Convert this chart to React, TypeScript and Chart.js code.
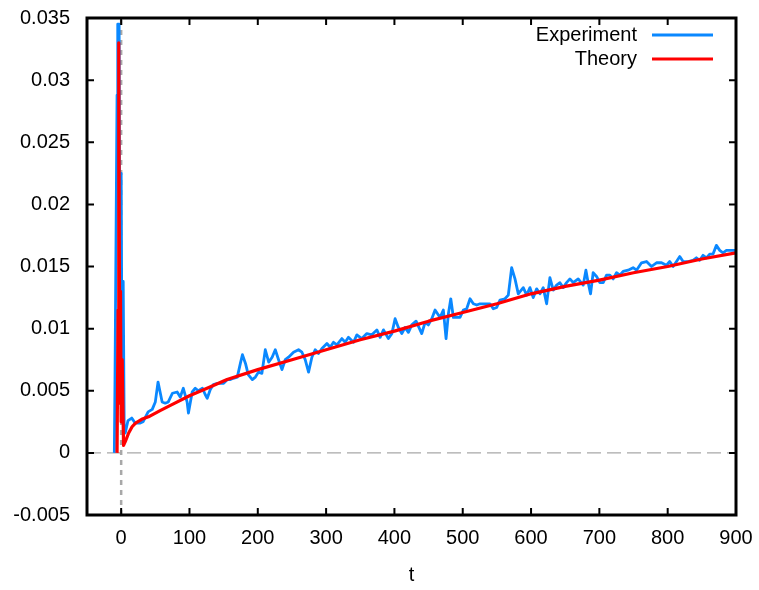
import { useEffect, useRef } from 'react';
import { Chart, registerables } from 'chart.js';
Chart.register(...registerables);

const FONT = '"Liberation Sans", Arial, sans-serif';
const BLUE = '#0a88ff';
const RED = '#ff0000';

const xTicks = [0, 100, 200, 300, 400, 500, 600, 700, 800, 900];
const yTicks = [-0.005, 0, 0.005, 0.01, 0.015, 0.02, 0.025, 0.03, 0.035];

const expT = [
  -10, -9, -7.5, -6, -5, -3, -1.5, 0, 1.5, 3, 4.5, 6, 10, 15.5, 20.5, 28, 32, 39.5, 45.5, 50,
  54, 60, 64.5, 69, 75, 82, 86.5, 91, 96.5, 98.5, 104, 108.5, 113, 119, 123, 126, 130.5, 135, 141, 145,
  150, 155.5, 160, 164, 170, 174.5, 177.5, 182, 186, 192, 196.5, 201, 206, 211, 216, 221, 225.6, 230.4, 235.4, 240.2,
  245, 252.3, 259.6, 264.6, 269.4, 274.3, 279.2, 284, 288.9, 293.9, 301.2, 306, 310.8, 315.8, 323.1, 327.9, 332.7, 340.1, 345, 352.3,
  359.6, 367, 374.3, 379.1, 384, 391.2, 396.2, 401, 405.8, 410.8, 415.6, 420.5, 425.4, 431.7, 440, 444.9, 449.7, 454.7, 459.5, 466.8,
  471.6, 475.6, 479, 482.5, 486.3, 491.2, 496, 500.9, 505.8, 510.7, 515.5, 520.5, 525.3, 532.6, 539.9, 544.7, 549.7, 554.5, 561.8, 566.7,
  571.6, 576.5, 581.3, 588.6, 593.6, 598.4, 603.2, 608.2, 613, 617.8, 622.8, 627.6, 632.5, 637.4, 642.3, 647.1, 652, 656.9, 661.7, 669,
  676.3, 680.3, 683.6, 687.1, 690.9, 695.9, 700.7, 705.6, 710.5, 715.4, 720.2, 725.1, 730, 734.8, 742.1, 749.4, 754.4, 761.7, 769, 776.3,
  783.6, 791, 798.2, 803, 807.9, 812.9, 817.7, 822.5, 829.8, 837.1, 842, 846.9, 851.8, 856.7, 861.5, 866.4, 871.3, 876.2, 881, 886,
  890.8, 899.7,
];
const expY = [
  0, 0.006, 0.0174, 0.0288, 0.0345, 0.0345, 0.008, 0.0225, 0.004, 0.0138, 0.0018, 0.0016, 0.0026, 0.0028, 0.0024, 0.0024, 0.0025, 0.0033, 0.0035, 0.0041,
  0.0057, 0.0041, 0.004, 0.0041, 0.0048, 0.0049, 0.0045, 0.0052, 0.0041, 0.0032, 0.0049, 0.0052, 0.005, 0.0052, 0.0047, 0.0044, 0.0051, 0.0055, 0.0056, 0.0056,
  0.0056, 0.0059, 0.0059, 0.006, 0.0061, 0.0072, 0.0079, 0.0072, 0.0063, 0.0059, 0.0061, 0.0065, 0.0064, 0.0083, 0.0073, 0.0077, 0.0083, 0.0075, 0.0067, 0.0075,
  0.0077, 0.0081, 0.0083, 0.0081, 0.0075, 0.0065, 0.0077, 0.0083, 0.008, 0.0084, 0.0088, 0.0085, 0.0089, 0.0087, 0.0092, 0.0089, 0.0093, 0.0089, 0.0095, 0.0092,
  0.0096, 0.0095, 0.0099, 0.0093, 0.0099, 0.0092, 0.0096, 0.0108, 0.0101, 0.0096, 0.0101, 0.0097, 0.0103, 0.0106, 0.0096, 0.0105, 0.0103, 0.0108, 0.0115, 0.0109,
  0.0115, 0.0092, 0.0112, 0.0124, 0.0109, 0.0109, 0.0109, 0.0115, 0.0116, 0.0124, 0.012, 0.0119, 0.012, 0.012, 0.012, 0.0116, 0.0117, 0.0123, 0.0124, 0.0127,
  0.0149, 0.014, 0.0128, 0.0133, 0.0127, 0.0133, 0.0125, 0.0132, 0.0128, 0.0133, 0.012, 0.0141, 0.0131, 0.0135, 0.0137, 0.0133, 0.0137, 0.014, 0.0137, 0.014,
  0.0135, 0.0147, 0.0137, 0.0128, 0.0145, 0.0142, 0.0137, 0.0137, 0.0143, 0.0143, 0.014, 0.0145, 0.0143, 0.0146, 0.0147, 0.0149, 0.0147, 0.0153, 0.0154, 0.015,
  0.0153, 0.0153, 0.0151, 0.0154, 0.015, 0.0154, 0.0158, 0.0154, 0.0154, 0.0155, 0.0157, 0.0155, 0.0159, 0.0157, 0.016, 0.016, 0.0167, 0.0163, 0.0161, 0.0163,
  0.0163, 0.0163,
];

const theoryT = [
  -6, -4.5, -3.5, -2, -1, 0, 1.5, 3.5, 6, 11, 16, 21, 30, 40, 57, 75, 100, 130, 155, 200,
  250, 300, 350, 400, 450, 500, 550, 600, 650, 700, 750, 800, 850, 900,
];
const theoryY = [
  0, 0.0115, 0.033, 0.004, 0.013, 0.0025, 0.0075, 0.0006, 0.0009, 0.0016, 0.0021, 0.0024, 0.0027, 0.0029, 0.0034, 0.0039, 0.0046, 0.0053, 0.0059, 0.0067,
  0.0075, 0.0083, 0.0091, 0.0098, 0.0106, 0.0113, 0.012, 0.0128, 0.0134, 0.0139, 0.0145, 0.015, 0.0156, 0.0161,
];

const legendItems = [
  { label: 'Experiment', color: BLUE },
  { label: 'Theory', color: RED },
];

const fmt = (v: number) => String(Number(v.toFixed(4)));

const decorPlugin = {
  id: 'gnuplotDecor',
  beforeDatasetsDraw(chart: any) {
    const { ctx, chartArea, scales } = chart;
    const { left, right, top, bottom } = chartArea;
    const x = scales.x;
    const y = scales.y;
    ctx.save();
    const y0 = y.getPixelForValue(0);
    ctx.strokeStyle = '#a8a8a8';
    ctx.lineWidth = 1.2;
    ctx.setLineDash([14, 6]);
    ctx.beginPath();
    ctx.moveTo(left, y0);
    ctx.lineTo(right, y0);
    ctx.stroke();
    const x0 = x.getPixelForValue(0);
    ctx.lineWidth = 2.5;
    ctx.setLineDash([5, 5]);
    ctx.beginPath();
    ctx.moveTo(x0, bottom);
    ctx.lineTo(x0, top);
    ctx.stroke();
    ctx.restore();
  },
  afterDatasetsDraw(chart: any) {
    const { ctx, chartArea, scales } = chart;
    const { left, right, top, bottom } = chartArea;
    const x = scales.x;
    const y = scales.y;
    ctx.save();
    ctx.strokeStyle = '#000';
    ctx.lineWidth = 2;
    ctx.setLineDash([]);
    ctx.beginPath();
    xTicks.forEach((v) => {
      const px = x.getPixelForValue(v);
      ctx.moveTo(px, bottom);
      ctx.lineTo(px, bottom - 7);
      ctx.moveTo(px, top);
      ctx.lineTo(px, top + 7);
    });
    yTicks.forEach((v) => {
      const py = y.getPixelForValue(v);
      ctx.moveTo(left, py);
      ctx.lineTo(left + 7, py);
      ctx.moveTo(right, py);
      ctx.lineTo(right - 7, py);
    });
    ctx.stroke();
    ctx.lineWidth = 3;
    ctx.strokeRect(left, top, right - left, bottom - top);

    ctx.font = `20px ${FONT}`;
    ctx.fillStyle = '#000';
    ctx.textAlign = 'right';
    ctx.textBaseline = 'middle';
    legendItems.forEach((it, i) => {
      const ly = top + 17 + i * 24;
      ctx.fillText(it.label, right - 99, ly);
      ctx.strokeStyle = it.color;
      ctx.lineWidth = 3;
      ctx.beginPath();
      ctx.moveTo(right - 84, ly);
      ctx.lineTo(right - 23, ly);
      ctx.stroke();
    });
    ctx.restore();
  },
};

export default function App() {
  const ref = useRef<HTMLCanvasElement>(null);
  useEffect(() => {
    document.body.style.margin = '0';
    const canvas = ref.current!;
    const expData = expT.map((t, i) => ({ x: t, y: expY[i] }));
    const theoryData = theoryT.map((t, i) => ({ x: t, y: theoryY[i] }));
    const chart = new Chart(canvas, {
      type: 'line',
      data: {
        datasets: [
          {
            label: 'Experiment',
            data: expData,
            borderColor: BLUE,
            backgroundColor: BLUE,
            borderWidth: 2.8,
            pointRadius: 0,
            tension: 0,
            order: 1,
            borderJoinStyle: 'round',
          },
          {
            label: 'Theory',
            data: theoryData,
            borderColor: RED,
            backgroundColor: RED,
            borderWidth: 3.2,
            pointRadius: 0,
            tension: 0,
            order: 0,
            borderJoinStyle: 'round',
          },
        ],
      },
      options: {
        animation: false,
        responsive: false,
        events: [],
        layout: { padding: { left: 0, right: 23, top: 18, bottom: 0 } },
        plugins: { legend: { display: false }, tooltip: { enabled: false } },
        scales: {
          x: {
            type: 'linear',
            min: -50,
            max: 900,
            afterBuildTicks: (s: any) => {
              s.ticks = xTicks.map((v) => ({ value: v }));
            },
            afterFit: (s: any) => {
              s.height = 75;
              s.paddingLeft = 0;
              s.paddingRight = 0;
            },
            grid: { display: false, drawTicks: false },
            border: { display: false },
            ticks: {
              font: { family: FONT, size: 20 },
              color: '#000',
              padding: 11,
              maxRotation: 0,
              autoSkip: false,
              callback: (v: any) => fmt(Number(v)),
            },
            title: {
              display: true,
              text: 't',
              font: { family: FONT, size: 20 },
              color: '#000',
              padding: { top: 0, bottom: 3 },
            },
          },
          y: {
            type: 'linear',
            min: -0.005,
            max: 0.035,
            afterBuildTicks: (s: any) => {
              s.ticks = yTicks.map((v) => ({ value: v }));
            },
            afterFit: (s: any) => {
              s.width = 87;
              s.paddingTop = 0;
              s.paddingBottom = 0;
            },
            grid: { display: false, drawTicks: false },
            border: { display: false },
            ticks: {
              font: { family: FONT, size: 20 },
              color: '#000',
              padding: 17,
              autoSkip: false,
              callback: (v: any) => fmt(Number(v)),
            },
          },
        },
      },
      plugins: [decorPlugin],
    } as any);
    return () => chart.destroy();
  }, []);
  return (
    <div style={{ width: 759, height: 590, position: 'relative', background: '#fff' }}>
      <canvas ref={ref} width={759} height={590} style={{ display: 'block' }} />
    </div>
  );
}
